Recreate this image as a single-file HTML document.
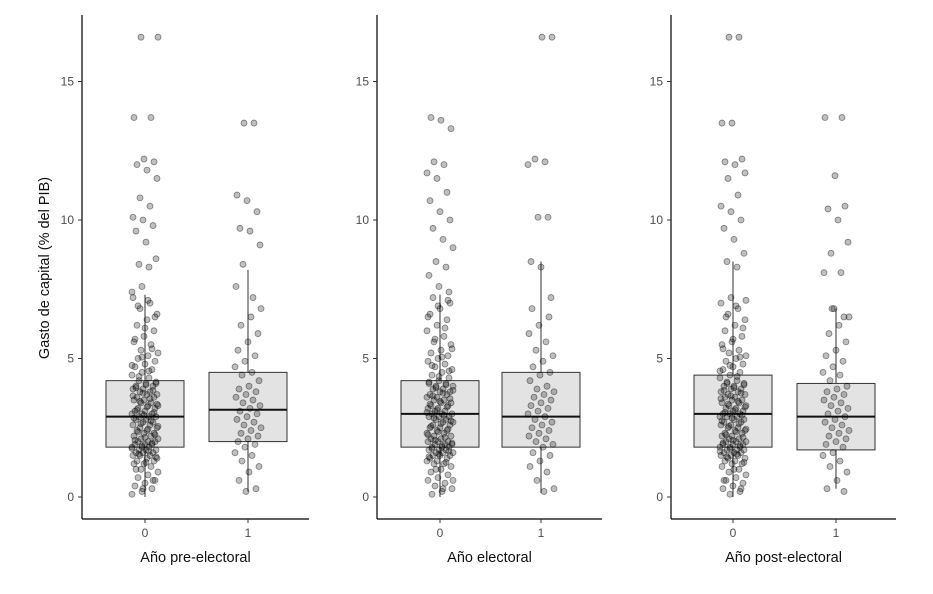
<!DOCTYPE html>
<html><head><meta charset="utf-8"><style>
body{margin:0;background:#fff}
svg{display:block;font-family:"Liberation Sans",Arial,sans-serif}
</style></head><body>
<svg id="chart" width="933" height="594" viewBox="0 0 933 594" xmlns="http://www.w3.org/2000/svg"></svg>
<script>
const panelTitles = ["Año pre-electoral","Año electoral","Año post-electoral"];
const categories = ["0","1"];
const yTicks = [0,5,10,15];
// box stats: [q1, median, q3, whiskerLow, whiskerHigh]
const boxP1 = [[1.8,2.9,4.2,0.0,7.3],[2.0,3.15,4.5,0.2,8.2]];
const boxP2 = [[1.8,3.0,4.2,0.0,7.3],[1.8,2.9,4.5,0.15,8.5]];
const boxP3 = [[1.8,3.0,4.4,0.0,8.5],[1.7,2.9,4.1,0.3,6.8]];
const bulk0 = [0.1,0.2,0.3,0.4,0.5,0.6,0.7,0.8,0.9,1.0,1.1,1.2,1.2,1.3,1.3,1.4,1.4,1.5,1.5,1.5,1.6,1.6,1.6,1.7,1.7,1.7,1.8,1.8,1.8,1.9,1.9,1.9,2.0,2.0,2.0,2.1,2.1,2.2,2.2,2.3,2.3,2.4,2.4,2.5,2.5,2.6,2.6,2.7,2.7,2.8,2.8,2.9,2.9,2.9,3.0,3.0,3.0,3.1,3.1,3.2,3.2,3.3,3.3,3.4,3.4,3.5,3.5,3.6,3.6,3.7,3.7,3.8,3.8,3.9,3.9,4.0,4.0,4.1,4.1,4.2,4.3,4.4,4.5,4.6,4.7,4.8,4.9,5.0,5.1,5.2,5.3,5.5,5.6,5.8,6.0,6.2,6.4,6.6,6.8,7.0,7.2];
const bulk0b = [0.3,0.6,1.0,1.25,1.45,1.55,1.65,1.75,1.85,1.95,2.05,2.15,2.25,2.35,2.45,2.55,2.65,2.75,2.85,2.95,3.05,3.15,3.25,3.35,3.45,3.55,3.65,3.75,3.85,3.95,4.05,4.15,4.35,4.55,4.75,5.05,5.35,5.7,6.1,6.5,6.9,7.1];
const bulk1 = [0.2,0.3,0.6,0.9,1.1,1.3,1.5,1.6,1.8,1.9,2.0,2.1,2.2,2.3,2.4,2.5,2.6,2.7,2.8,2.9,3.0,3.1,3.2,3.3,3.4,3.5,3.6,3.7,3.8,3.9,4.0,4.2,4.4,4.5,4.7,4.9,5.1,5.3,5.6,5.9,6.2,6.5,6.8];
const outP1g0 = [16.6,16.6,13.7,13.7,12.2,12.1,12.0,11.8,11.5,10.8,10.5,10.1,10.0,9.8,9.6,9.2,8.6,8.4,8.3,7.4,7.6];
const outP1g1 = [13.5,13.5,10.9,10.7,10.3,9.7,9.6,9.1,8.4,7.2,7.6];
const outP2g0 = [13.7,13.6,13.3,12.1,12.0,11.7,11.5,11.0,10.7,10.3,10.0,9.7,9.3,9.0,8.5,8.3,8.0,7.6,7.4];
const outP2g1 = [16.6,16.6,12.2,12.1,12.0,10.1,10.1,8.5,8.3,7.2];
const outP3g0 = [16.6,16.6,13.5,13.5,12.2,12.1,12.0,11.7,11.5,10.9,10.5,10.3,10.0,9.7,9.3,8.8,8.5,8.3];
const outP3g1 = [13.7,13.7,11.6,10.5,10.4,10.0,9.2,8.8,8.1,8.1,6.8,6.5];

const svg = document.getElementById('chart');
const NS = 'http://www.w3.org/2000/svg';
function mk(tag, attrs, parent){const e=document.createElementNS(NS,tag);for(const k in attrs)e.setAttribute(k,attrs[k]);(parent||svg).appendChild(e);return e;}
const y0px=497, pxPer=27.7;
const yScale = v => y0px - v*pxPer;
const panels = [
 {ax:82,c:[145,248],end:309,box:boxP1,pts:[bulk0.concat(bulk0b,outP1g0),bulk1.concat(outP1g1)]},
 {ax:377,c:[440,541],end:602,box:boxP2,pts:[bulk0.concat(bulk0b,outP2g0),bulk1.concat(outP2g1)]},
 {ax:671,c:[733,836],end:896,box:boxP3,pts:[bulk0.concat(bulk0b,outP3g0),bulk1.concat(outP3g1)]}
];
panels.forEach((p,pi)=>{
  const g = mk('g',{});
  
  
  const ya = mk('line',{x1:p.ax,y1:15,x2:p.ax,y2:519,stroke:'#000','stroke-width':1.2},g);
  
  
  const xa = mk('line',{x1:p.ax,y1:519,x2:p.end,y2:519,stroke:'#000','stroke-width':1.2},g);
  
  
  yTicks.forEach(t=>{
    const y=yScale(t);
    mk('line',{x1:p.ax-4,y1:y,x2:p.ax,y2:y,stroke:'#333'},g);
    const tx=mk('text',{x:p.ax-8,y:y+4,'text-anchor':'end','font-size':12,fill:'#4d4d4d'},g);
    tx.textContent=t;
    
    
  });
  categories.forEach((c,ci)=>{
    const x=p.c[ci];
    mk('line',{x1:x,y1:519,x2:x,y2:523,stroke:'#333'},g);
    const tx=mk('text',{x:x,y:537,'text-anchor':'middle','font-size':12,fill:'#4d4d4d'},g);
    tx.textContent=c;
    
    
    const b=p.box[ci];
    const bg=mk('g',{},g);
    
    
    mk('line',{x1:x,y1:yScale(b[4]),x2:x,y2:yScale(b[3]),stroke:'#333','stroke-width':1},bg);
    mk('rect',{x:x-39,y:yScale(b[2]),width:78,height:yScale(b[0])-yScale(b[2]),fill:'#e3e3e3',stroke:'#333','stroke-width':1},bg);
    mk('line',{x1:x-39,y1:yScale(b[1]),x2:x+39,y2:yScale(b[1]),stroke:'#111','stroke-width':2},bg);
    const pg=mk('g',{},g);
    
    
    p.pts[ci].forEach((v,i)=>{
      const jit=((i*37+ci*11+pi*5)%27)-13;
      const ci2=mk('circle',{cx:x+jit,cy:yScale(v),r:3,fill:'rgba(0,0,0,0.25)',stroke:'rgba(0,0,0,0.45)','stroke-width':0.8},pg);
      
      
    });
  });
  const xt=mk('text',{x:(p.ax+p.end)/2,y:562,'text-anchor':'middle','font-size':14.5,fill:'#111'},g);
  xt.textContent=panelTitles[pi];
  
  
});
const yt=mk('text',{x:0,y:0,'text-anchor':'middle','font-size':14.5,fill:'#111',transform:'translate(49,268) rotate(-90)'});
yt.textContent='Gasto de capital (% del PIB)';


</script>
</body></html>
